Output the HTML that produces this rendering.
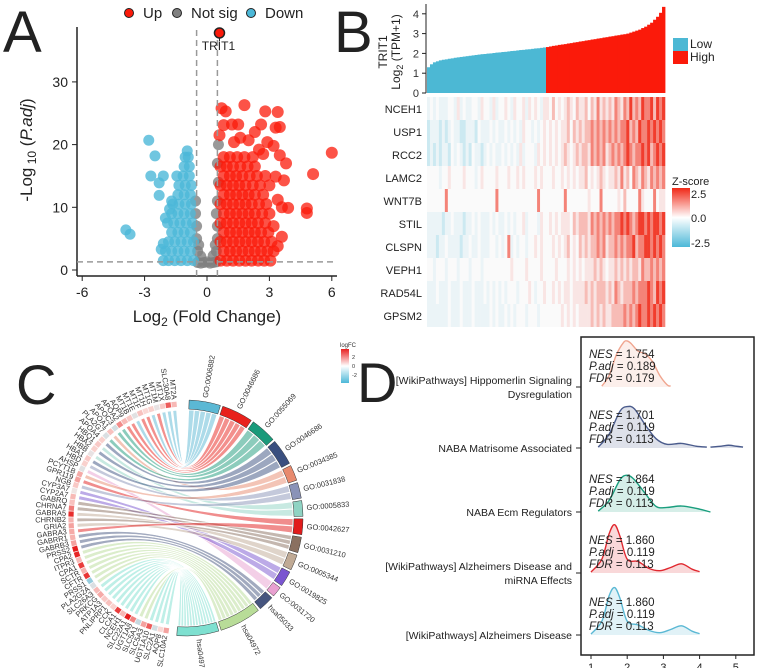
<!DOCTYPE html>
<html><head><meta charset="utf-8"><style>
body{margin:0;background:#fff}
svg{display:block;font-family:"Liberation Sans",sans-serif}
</style></head><body>
<svg id="s" width="760" height="668" viewBox="0 0 760 668" xmlns="http://www.w3.org/2000/svg">
<g font-size="58" fill="#222">
<text x="3" y="52">A</text>
<text x="334" y="52">B</text>
<text x="16" y="404" font-size="56">C</text>
<text x="357" y="402" font-size="56">D</text>
</g>
<g id="A"></g>
<g id="B"></g>
<g id="C"></g>
<g id="D"></g>
</svg>
<script>
const NS="http://www.w3.org/2000/svg";
function mk(p,t,a,txt){const e=document.createElementNS(NS,t);for(const k in a)e.setAttribute(k,a[k]);if(txt!==undefined)e.textContent=txt;p.appendChild(e);return e;}

/* ================= PANEL A: volcano ================= */
const upPts=[[.65,1.5],[.95,1.5],[1.25,1.5],[1.55,1.5],[1.85,1.5],[2.15,1.5],[2.45,1.5],[2.75,1.5],[3.05,1.5],
[.8,3],[1.1,3],[1.4,3],[1.7,3],[2.0,3],[2.3,3],[2.6,3],[2.9,3],[3.2,3],
[.65,4.5],[.95,4.5],[1.25,4.5],[1.55,4.5],[1.85,4.5],[2.15,4.5],[2.45,4.5],[2.75,4.5],[3.1,4.5],
[.8,6],[1.1,6],[1.4,6],[1.7,6],[2.0,6],[2.3,6],[2.6,6],[2.95,6],
[.65,7.5],[.95,7.5],[1.25,7.5],[1.55,7.5],[1.85,7.5],[2.15,7.5],[2.45,7.5],[2.8,7.5],
[.8,9],[1.1,9],[1.4,9],[1.7,9],[2.0,9],[2.3,9],[2.65,9],[3.0,9],
[.65,10.5],[.95,10.5],[1.25,10.5],[1.55,10.5],[1.85,10.5],[2.15,10.5],[2.5,10.5],[2.85,10.5],
[.8,12],[1.1,12],[1.4,12],[1.7,12],[2.0,12],[2.3,12],[2.7,12],
[.65,13.5],[.95,13.5],[1.25,13.5],[1.55,13.5],[1.85,13.5],[2.2,13.5],[2.55,13.5],[3.0,13.5],
[.8,15],[1.1,15],[1.4,15],[1.7,15],[2.05,15],[2.4,15],[2.8,15],
[.65,16.5],[.95,16.5],[1.25,16.5],[1.6,16.5],[1.95,16.5],[2.3,16.5],
[.8,18],[1.1,18],[1.45,18],[1.8,18],[2.2,18],
[6.0,18.7],[5.1,15.3],[4.8,9.8],[4.8,9.1],[3.6,5.3],[3.4,25.2],[2.8,25.3],[1.8,26.3],[.7,25.8],[.9,25.3],
[3.5,22.8],[3.3,22.7],[2.3,22],[2.9,20.4],[3.2,19.8],[1.2,23.2],[1.5,23.2],[.8,23.1],[2.0,20.7],[1.6,21.1],
[3.8,17],[3.7,14.3],[3.9,9.9],[3.3,14.9],[3.5,18.3],[1.3,20.4],[.6,21.5],[2.6,23.2],[3.4,11.2],[3.6,10],[3.2,7],[3.4,3.8],[2.7,18.5],[2.5,19.2]];
const downPts=[[-.65,1.5],[-.95,1.5],[-1.25,1.5],[-1.55,1.5],[-1.85,1.5],[-2.1,1.5],
[-.8,3],[-1.1,3],[-1.4,3],[-1.7,3],[-2.0,3],
[-.65,4.5],[-.95,4.5],[-1.25,4.5],[-1.55,4.5],[-1.85,4.5],
[-.8,6],[-1.1,6],[-1.4,6],[-1.7,6],
[-.7,7.5],[-1.0,7.5],[-1.3,7.5],[-1.6,7.5],[-1.9,7.5],
[-.8,9],[-1.1,9],[-1.4,9],[-1.7,9],
[-.75,10.5],[-1.05,10.5],[-1.35,10.5],[-1.65,10.5],
[-.8,12],[-1.1,12],[-1.4,12],[-.75,13.5],[-1.05,13.5],[-1.35,13.5],
[-.85,15],[-1.15,15],[-1.45,15],[-.85,16.5],[-1.1,16.5],[-.9,18],[-1.05,18],[-.95,19],
[-2.8,20.7],[-2.5,18.2],[-2.7,15],[-2.1,15],[-2.3,13.9],[-2.3,11.9],[-1.8,9.7],[-2.0,8.3],[-3.9,6.4],[-3.7,5.7],[-2.2,3.3],[-2.1,4.2],[-1.7,11.0]];
const nsPts=[[-.45,1.2],[-.3,1.1],[-.15,1.2],[0,1.3],[.15,1.1],[.3,1.2],[.45,1.3],[-.45,3],[-.3,2.2],[.3,2.3],[.45,3],[-.5,5],[-.4,4],[.4,4],[.5,5],[-.5,7],[.5,7],[-.55,9],[.45,9],[.5,11],[.55,14],[.5,17],[.55,20],[-.55,11]];
const labelPt=[0.6,37.8];
const xTicks=[-6,-3,0,3,6], yTicks=[0,10,20,30];
(function(){
const g=document.getElementById('A');
const X=v=>207+v*20.8, Y=v=>270-v*6.27;
mk(g,'line',{x1:77,y1:27,x2:77,y2:276,stroke:'#222','stroke-width':1.5,});
mk(g,'line',{x1:77,y1:276,x2:337,y2:276,stroke:'#222','stroke-width':1.5,});
xTicks.forEach(t=>{mk(g,'line',{x1:X(t),x2:X(t),y1:276,y2:281,stroke:'#222'});const e=mk(g,'text',{x:X(t),y:297,'text-anchor':'middle','font-size':14,fill:'#222'},t);});
yTicks.forEach(t=>{mk(g,'line',{x1:72,x2:77,y1:Y(t),y2:Y(t),stroke:'#222'});const e=mk(g,'text',{x:68,y:Y(t)+5,'text-anchor':'end','font-size':14,fill:'#222'},t);});
const pts=mk(g,'g',{});
nsPts.forEach(p=>{const c=mk(pts,'circle',{cx:X(p[0]),cy:Y(p[1]),r:5.5,fill:'#808080','fill-opacity':0.8});});
downPts.forEach(p=>{const c=mk(pts,'circle',{cx:X(p[0]),cy:Y(p[1]),r:5.5,fill:'#4cb8d8','fill-opacity':0.8});});
upPts.forEach(p=>{const c=mk(pts,'circle',{cx:X(p[0]),cy:Y(p[1]),r:6,fill:'#fb1a0a','fill-opacity':0.75});});
mk(g,'line',{x1:X(-0.5),x2:X(-0.5),y1:30,y2:276,stroke:'#999','stroke-width':1.5,'stroke-dasharray':'6,4'});
mk(g,'line',{x1:X(0.5),x2:X(0.5),y1:30,y2:276,stroke:'#999','stroke-width':1.5,'stroke-dasharray':'6,4'});
mk(g,'line',{x1:77,x2:337,y1:Y(1.3),y2:Y(1.3),stroke:'#999','stroke-width':1.5,'stroke-dasharray':'6,4'});
mk(g,'line',{x1:X(labelPt[0]),x2:X(labelPt[0]),y1:Y(labelPt[1]),y2:Y(labelPt[1])+8,stroke:'#222'});
const t=mk(g,'circle',{cx:X(labelPt[0]),cy:Y(labelPt[1]),r:5,fill:'#fb1a0a',stroke:'#222','stroke-width':1.5});
mk(g,'text',{x:X(labelPt[0])-1,y:Y(labelPt[1])+17,'text-anchor':'middle','font-size':12,fill:'#222',},'TRIT1');
mk(g,'text',{x:207,y:322,'text-anchor':'middle','font-size':17,fill:'#222',}).innerHTML='Log<tspan font-size="12" dy="4">2</tspan><tspan dy="-4"> (Fold Change)</tspan>';
mk(g,'text',{transform:'translate(32,150) rotate(-90)','text-anchor':'middle','font-size':17,fill:'#222',}).innerHTML='-Log<tspan font-size="12" dy="4"> 10</tspan><tspan dy="-4"> (</tspan><tspan font-style="italic">P.adj</tspan>)';
const lg=mk(g,'g',{});
[['Up','#fb1a0a',129],['Not sig','#808080',177],['Down','#4cb8d8',251]].forEach(d=>{mk(lg,'circle',{cx:d[2],cy:13,r:4.5,fill:d[1],stroke:'#222'});const e=mk(lg,'text',{x:d[2]+14,y:18,'font-size':15,fill:'#222'},d[0]);});
})();

/* ================= PANEL B ================= */
const exprLow=[1.3,1.45,1.55,1.6,1.65,1.68,1.7,1.73,1.75,1.78,1.8,1.82,1.84,1.86,1.88,1.9,1.92,1.94,1.96,1.97,1.99,2.0,2.02,2.04,2.05,2.07,2.08,2.1,2.12,2.13,2.15,2.17,2.18,2.2,2.21,2.23,2.25,2.26,2.28,2.3];
const exprHigh=[2.32,2.35,2.38,2.4,2.43,2.45,2.47,2.5,2.52,2.55,2.57,2.6,2.62,2.65,2.67,2.7,2.72,2.75,2.77,2.8,2.82,2.85,2.87,2.9,2.92,2.95,2.97,3.0,3.05,3.1,3.15,3.2,3.28,3.35,3.45,3.55,3.7,3.85,4.05,4.35];
const exprTicks=[0,1,2,3,4];
const genes=['NCEH1','USP1','RCC2','LAMC2','WNT7B','STIL','CLSPN','VEPH1','RAD54L','GPSM2'];
const zRows=[
"34343334435343344354"+"43534454354453545435"+"54645456546556465756"+"56576576867687786878",
"23332323433223332433"+"34343343434354434345"+"45454556465656676767"+"67676778676877878787",
"23232332434323243323"+"43433434343534443545"+"45454565456566576767"+"56767678767787867878",
"44443445444454443454"+"44454445445454445454"+"44544545454556454565"+"45565756476576576767",
"44444474444444444444"+"44474444444444444744"+"44444474444444544474"+"44445464444754447455",
"33333233433323343433"+"34343343434453444354"+"45454555465666576767"+"67677878767887878878",
"33323343333233433433"+"34434347343443445454"+"44545456454656566767"+"56676767786778878787",
"44344434443444344434"+"44444444544445444454"+"44454445454545556565"+"45565656566576676767",
"33343334333433343334"+"34343434443444543445"+"44545455455556565666"+"56576566676777876878",
"33333334333433343333"+"34343343434443444344"+"44444545454555565656"+"55666676767877878787"];
(function(){
const g=document.getElementById('B');
const x0=427,x1=665,Y=v=>93-v*19.8;
const all=exprLow.concat(exprHigh), n=all.length, w=(x1-x0)/n;
const bars=mk(g,'g',{});
all.forEach((v,i)=>{const r=mk(bars,'rect',{x:x0+i*w,y:Y(v),width:w+0.4,height:Y(0)-Y(v),fill:i<exprLow.length?'#4cb8d4':'#fb1a0a'});});
mk(g,'line',{x1:x0-1,x2:x0-1,y1:4,y2:93,stroke:'#222'});
exprTicks.forEach(t=>{mk(g,'line',{x1:x0-5,x2:x0-1,y1:Y(t),y2:Y(t),stroke:'#222'});const e=mk(g,'text',{x:x0-8,y:Y(t)+4,'text-anchor':'end','font-size':11,fill:'#333'},t);});
mk(g,'text',{transform:'translate(387,52) rotate(-90)','text-anchor':'middle','font-size':12,fill:'#222',},'TRIT1');
mk(g,'text',{transform:'translate(400,52) rotate(-90)','text-anchor':'middle','font-size':12,fill:'#222',}).innerHTML='Log<tspan font-size="9" dy="3">2</tspan><tspan dy="-3"> (TPM+1)</tspan>';
mk(g,'rect',{x:673,y:38,width:15,height:13,fill:'#4cb8d4',});
mk(g,'rect',{x:673,y:51,width:15,height:13,fill:'#fb1a0a',});
mk(g,'text',{x:690,y:48,'font-size':12,fill:'#222',},'Low');
mk(g,'text',{x:690,y:61,'font-size':12,fill:'#222',},'High');
function col(l){const z=(l-4)/4;let b,t;if(z<0){b=[76,184,216];t=Math.pow(-z,1.6)*0.8;}else{b=[240,40,22];t=Math.pow(z,1.6)*0.9;}const a=[250,250,250];return 'rgb('+a.map((v,i)=>Math.round(v+(b[i]-v)*t)).join(',')+')';}
const hm=mk(g,'g',{});
const rh=23,y0=97;
zRows.forEach((s,r)=>{for(let i=0;i<s.length;i++){const c=mk(hm,'rect',{x:x0+i*w,y:y0+r*rh,width:w+0.3,height:rh,fill:col(+s[i])});}
const e=mk(g,'text',{x:422,y:y0+r*rh+16,'text-anchor':'end','font-size':11,fill:'#222'},genes[r]);});
const df=mk(g,'defs',{});const lgd=mk(df,'linearGradient',{id:'zg',x1:0,y1:0,x2:0,y2:1});
mk(lgd,'stop',{offset:0,'stop-color':'#f02816'});mk(lgd,'stop',{offset:0.5,'stop-color':'#fff'});mk(lgd,'stop',{offset:1,'stop-color':'#4cb8d8'});
mk(g,'text',{x:672,y:185,'font-size':11,fill:'#222',},'Z-score');
mk(g,'rect',{x:672,y:188,width:18,height:59,fill:'url(#zg)',});
[['2.5',198],['0.0',222],['-2.5',247]].forEach(d=>{const e=mk(g,'text',{x:691,y:d[1],'font-size':11,fill:'#222'},d[0]);});
})();

/* ================= PANEL C: chord ================= */
const segNames=['GO:0006882','GO:0046686','GO:0055069','GO:0046686','GO:0034385','GO:0031838','GO:0005833','GO:0042627','GO:0031210','GO:0005344','GO:0019825','GO:0031720','hsa05033','hsa04972','hsa04976'];
const segSizes=[6,6,5,5,3,3,3,3,3,3,3,2,3,8,8];
const segColors=['#5bb8d4','#e8211c','#1a9a7a','#3a4f7f','#e88a6e','#8a93b8','#8fd3c3','#e11b1b','#8a7060','#c0aa95','#7a55d0','#e8a0d0','#46557f','#b8dc98','#7ee0d0'];
const geneNames=['MT2A','SLC30A8','MT1X','MT1M','MT1G','MT1H','MT1F','MT1E','MT1B','AQP9','APOA2','APOC3','APOA1','PLA2G7','APOA4','HBQ1','HBA2','HBB','HBA1','HBD','AHSP','PCYT1B','GPR119','NGB','CYP3A7','CYP2A7','GABRQ','CHRNA7','GABRA5','CHRNB2','GRIA2','GABRA3','GABRR1','GABRB3','PRSS2','CPA2','ITPR3','CPA1','SCTR','CFTR','PRSS1','PLA2G2A','SLC26A3','PRKCG','ATP1A3','PNLIPRP1','CCK','CLCA1','NCEH1','SLC22A1','UGT1A8','SLC5A1','SLC5A3','UGT1A10','SLC2A1','AQP8','SLC10A2'];
const geneSeg=[0,0,0,1,0,1,1,0,1,1,2,2,4,2,3,6,3,6,3,5,11,4,7,5,10,10,8,8,9,8,9,7,12,12,12,13,13,13,13,13,13,13,14,14,14,14,14,14,14,14,14,13,13,14,14,14,14];
const geneFC=[.6,1.8,.4,-.3,.3,.2,.5,-.4,.4,.6,1.2,-.6,.5,-.5,.3,.4,.3,-.3,.4,.3,-.4,.8,.9,.4,-.2,.6,.5,1.4,2.4,.7,.9,.8,.7,.9,2.6,2.5,.6,2.2,.7,2.3,-1.5,-.5,.6,.8,.4,.5,.3,2.2,.6,2.6,1.3,-.8,.9,1.8,-.6,.2,.9];
(function(){
const g=document.getElementById('C');
const cx=185,cy=518,R=108,RO=118;
const rad=d=>d*Math.PI/180, P=(a,r)=>[cx+r*Math.cos(rad(a)),cy+r*Math.sin(rad(a))];
const tot=segSizes.reduce((a,b)=>a+b,0), gap=1.2, span=182-gap*(segSizes.length-1);
let a=-88;const segA=[];
segSizes.forEach((s,i)=>{const a2=a+s/tot*span;segA.push([a,a2]);a=a2+gap;});
const gn=geneNames.length, gstep=(266-98)/gn;
const geneA=geneNames.map((_,i)=>[266-(i+1)*gstep+0.5,266-i*gstep-0.5]);
const cnt=segSizes.map(()=>0),used=segSizes.map(()=>0);geneSeg.forEach(s=>cnt[s]++);
const rib=mk(g,'g',{});
geneSeg.forEach((s,i)=>{
 const [s1,s2]=segA[s];const k=used[s]++;const sub=(s2-s1)/cnt[s];
 const b1=s1+k*sub,b2=s1+(k+1)*sub-0.3;
 const [g1,g2]=geneA[i];
 const p1=P(g1,R),p2=P(g2,R),q1=P(b1,R),q2=P(b2,R);
 const d=`M${p2[0]},${p2[1]} A${R},${R} 0 0 0 ${p1[0]},${p1[1]} Q${cx},${cy} ${q2[0]},${q2[1]} A${R},${R} 0 0 0 ${q1[0]},${q1[1]} Q${cx},${cy} ${p2[0]},${p2[1]}Z`;
 const e=mk(rib,'path',{d:d,fill:segColors[s],'fill-opacity':0.5,stroke:'#fff','stroke-width':0.6});
 
});
segA.forEach(([a1,a2],i)=>{
 const o1=P(a1,RO),o2=P(a2,RO),i1=P(a1,R+1),i2=P(a2,R+1);
 const e=mk(g,'path',{d:`M${o1[0]},${o1[1]} A${RO},${RO} 0 0 1 ${o2[0]},${o2[1]} L${i2[0]},${i2[1]} A${R+1},${R+1} 0 0 0 ${i1[0]},${i1[1]}Z`,fill:segColors[i],stroke:'#333','stroke-width':0.5});
 
 const m=(a1+a2)/2,p=P(m,RO+4);
 const t=mk(g,'text',{x:p[0],y:p[1],transform:`rotate(${m},${p[0]},${p[1]})`,'font-size':7.5,fill:'#333','dominant-baseline':'middle'},segNames[i]);
 
});
function fcCol(v){const t=Math.min(Math.abs(v)/2.6,1);const b=v>=0?[230,30,30]:[76,184,216];const base=[252,232,228];return 'rgb('+base.map((x,i)=>Math.round(x+(b[i]-x)*t)).join(',')+')';}
geneA.forEach(([a1,a2],i)=>{
 const m=(a1+a2)/2,p=P(m,R+6);
 const sq=mk(g,'rect',{x:p[0]-2.6,y:p[1]-2.6,width:5.2,height:5.2,fill:fcCol(geneFC[i]),transform:`rotate(${m},${p[0]},${p[1]})`});
 
 const q=P(m,R+11);
 const t=mk(g,'text',{x:q[0],y:q[1],transform:`rotate(${m+180},${q[0]},${q[1]})`,'font-size':7.5,fill:'#333','text-anchor':'end','dominant-baseline':'middle'},geneNames[i]);
 
});
const df=mk(g,'defs',{});const lgd=mk(df,'linearGradient',{id:'fg',x1:0,y1:0,x2:0,y2:1});
mk(lgd,'stop',{offset:0,'stop-color':'#e82020'});mk(lgd,'stop',{offset:0.5,'stop-color':'#fff'});mk(lgd,'stop',{offset:1,'stop-color':'#4cb8d8'});
mk(g,'text',{x:340,y:347,'font-size':6,fill:'#333',},'logFC');
mk(g,'rect',{x:341,y:349,width:8,height:34,fill:'url(#fg)',});
[['2',359],['0',368],['-2',377]].forEach(d=>{const e=mk(g,'text',{x:352,y:d[1],'font-size':5.5,fill:'#333'},d[0]);});
})();

/* ================= PANEL D: ridges ================= */
const pathways=[['[WikiPathways] Hippomerlin Signaling','Dysregulation'],['NABA Matrisome Associated'],['NABA Ecm Regulators'],['[WikiPathways] Alzheimers Disease and','miRNA Effects'],['[WikiPathways] Alzheimers Disease']];
const nesVals=['1.754','1.701','1.864','1.860','1.860'];
const padjVals=['0.189','0.119','0.119','0.119','0.119'];
const fdrVals=['0.179','0.113','0.113','0.113','0.113'];
const ridgeColors=['#f0a58f','#4a5b8c','#1a9e7e','#e0282f','#5ab8d4'];
const ridgeX=[[1.3,1.5,1.7,1.9,2.0,2.1,2.3,2.5,2.7,2.9,3.1,3.2],[1.2,1.5,1.8,2.0,2.2,2.5,2.8,3.1,3.5,3.9,4.2],[1.2,1.5,1.8,2.0,2.2,2.5,2.8,3.1,3.5,3.9,4.3],[1.0,1.3,1.5,1.65,1.8,2.0,2.3,2.6,2.9,3.2,3.5,3.8,4.0],[1.0,1.3,1.5,1.65,1.8,2.0,2.3,2.6,2.9,3.2,3.5,3.8,4.0]];
const ridgeD=[[.02,.25,.7,.97,1.0,.95,.78,.72,.55,.25,.05,.02],[.02,.3,.8,.9,.85,.5,.2,.08,.1,.04,.02],[.02,.25,.7,.8,.7,.4,.12,.1,.13,.08,.0],[.02,.3,.85,1.05,.8,.3,.25,.1,.05,.12,.2,.08,.03],[.02,.3,.85,1.03,.8,.3,.22,.1,.05,.12,.2,.08,.03]];
const ridge2TailX=[4.3,4.6,4.8,5.0,5.2], ridge2TailD=[.02,.04,.06,.04,.02];
const dTicks=[1,2,3,4,5];
(function(){
const g=document.getElementById('D');
const X=v=>591+(v-1)*36.2, base=[387,448,512,573,635], H=46;
mk(g,'rect',{x:581,y:337,width:173,height:318,fill:'none',stroke:'#222','stroke-width':1.5,});
function smooth(pts){let d=`M${pts[0][0]},${pts[0][1]}`;for(let i=1;i<pts.length;i++){const p0=pts[i-2]||pts[i-1],p1=pts[i-1],p2=pts[i],p3=pts[i+1]||p2;
 d+=` C${p1[0]+(p2[0]-p0[0])/6},${p1[1]+(p2[1]-p0[1])/6} ${p2[0]-(p3[0]-p1[0])/6},${p2[1]-(p3[1]-p1[1])/6} ${p2[0]},${p2[1]}`;}return d;}
function ridge(xs,ds,b,c,nm){const pts=xs.map((x,i)=>[X(x),b-ds[i]*H]);const line=smooth(pts);
 const f=mk(g,'path',{d:line+` L${X(xs[xs.length-1])},${b} L${X(xs[0])},${b}Z`,fill:c,'fill-opacity':0.18});
 const l=mk(g,'path',{d:line,fill:'none',stroke:c,'stroke-width':1.4});}
ridgeX.forEach((xs,i)=>ridge(xs,ridgeD[i],base[i],ridgeColors[i],'ridge-'+(i+1)));
ridge(ridge2TailX,ridge2TailD,base[1],ridgeColors[1],'ridge-2-tail');
base.forEach((b,i)=>{
 const t=mk(g,'g',{'font-size':11.5,fill:'#222'});
 mk(t,'text',{x:589,y:b-29}).innerHTML='<tspan font-style="italic">NES</tspan> = '+nesVals[i];
 mk(t,'text',{x:589,y:b-17}).innerHTML='<tspan font-style="italic">P.adj</tspan> = '+padjVals[i];
 mk(t,'text',{x:589,y:b-5}).innerHTML='<tspan font-style="italic">FDR</tspan> = '+fdrVals[i];
 mk(g,'line',{x1:576,x2:581,y1:b,y2:b,stroke:'#222'});
 const lab=pathways[i];
 lab.forEach((s,j)=>{const e=mk(g,'text',{x:572,y:lab.length>1?b-3+j*14:b+4,'text-anchor':'end','font-size':10.5,fill:'#222'},s);
  });
});
dTicks.forEach(t=>{mk(g,'line',{x1:X(t),x2:X(t),y1:655,y2:659,stroke:'#222'});const e=mk(g,'text',{x:X(t),y:671,'text-anchor':'middle','font-size':11,fill:'#222'},t);});
})();
</script>
</body></html>
